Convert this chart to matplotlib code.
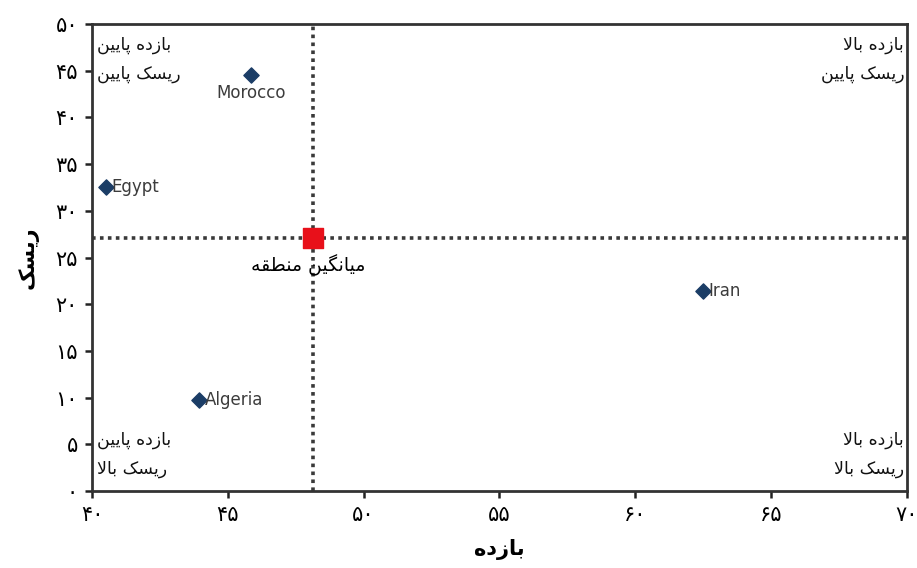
import numpy as np
import matplotlib
matplotlib.use("Agg")
import matplotlib.pyplot as plt

# data
countries = ["Morocco", "Egypt", "Iran", "Algeria"]
bazdeh = [45.85, 40.5, 62.5, 43.95]      # x : return
risk = [44.5, 32.5, 21.4, 9.7]           # y : risk
avg_x = 48.15
avg_y = 27.1
x_ticks = [40, 45, 50, 55, 60, 65, 70]
y_ticks = [0, 5, 10, 15, 20, 25, 30, 35, 40, 45, 50]

# --- tiny persian shaper (no arabic_reshaper available) ---
# letter: (isolated, final, initial, medial) ; None => does not join to next letter
FORMS = {
    "ا": ("\uFE8D", "\uFE8E", None, None),
    "ب": ("\uFE8F", "\uFE90", "\uFE91", "\uFE92"),
    "پ": ("\uFB56", "\uFB57", "\uFB58", "\uFB59"),
    "ز": ("\uFEAF", "\uFEB0", None, None),
    "د": ("\uFEA9", "\uFEAA", None, None),
    "ر": ("\uFEAD", "\uFEAE", None, None),
    "ه": ("\uFEE9", "\uFEEA", "\uFEEB", "\uFEEC"),
    "ی": ("\uFBFC", "\uFBFD", "\uFBFE", "\uFBFF"),
    "ن": ("\uFEE5", "\uFEE6", "\uFEE7", "\uFEE8"),
    "س": ("\uFEB1", "\uFEB2", "\uFEB3", "\uFEB4"),
    "ک": ("\uFB8E", "\uFB8F", "\uFB90", "\uFB91"),
    "ل": ("\uFEDD", "\uFEDE", "\uFEDF", "\uFEE0"),
    "م": ("\uFEE1", "\uFEE2", "\uFEE3", "\uFEE4"),
    "گ": ("\uFB92", "\uFB93", "\uFB94", "\uFB95"),
    "ط": ("\uFEC1", "\uFEC2", "\uFEC3", "\uFEC4"),
    "ق": ("\uFED5", "\uFED6", "\uFED7", "\uFED8"),
}


def shape_word(w):
    out = []
    letters = []
    i = 0
    while i < len(w):
        # lam + alef ligature
        if w[i] == "ل" and i + 1 < len(w) and w[i + 1] == "ا":
            letters.append("لا")
            i += 2
        else:
            letters.append(w[i])
            i += 1

    def joins_next(c):
        if c == "لا":
            return False
        return FORMS[c][2] is not None

    for k, c in enumerate(letters):
        prev_join = k > 0 and joins_next(letters[k - 1])
        next_exists = k + 1 < len(letters)
        if c == "لا":
            out.append("\uFEFC" if prev_join else "\uFEFB")
            continue
        iso, fin, ini, med = FORMS[c]
        can_next = ini is not None and next_exists
        if prev_join and can_next:
            out.append(med)
        elif prev_join:
            out.append(fin)
        elif can_next:
            out.append(ini)
        else:
            out.append(iso)
    return "".join(out)


def fa(s):
    words = [shape_word(w) for w in s.split(" ")]
    return " ".join(words)[::-1]


def fa_num(n):
    return "".join("۰۱۲۳۴۵۶۷۸۹"[int(d)] for d in str(n))


plt.rcParams['font.family'] = ['DejaVu Sans']

fig = plt.figure(figsize=(9.17, 5.68), dpi=100)
ax = fig.add_axes([0.1003, 0.1356, 0.8887, 0.8221])

ax.axvline(avg_x, color="#3a3a3a", linestyle=(0, (1, 1.2)), linewidth=2.6, zorder=1)
ax.axhline(avg_y, color="#3a3a3a", linestyle=(0, (1, 1.2)), linewidth=2.6, zorder=1)

ax.scatter(bazdeh, risk, marker="D", s=60, color="#1b3d66", zorder=3)
ax.scatter([avg_x], [avg_y], marker="s", s=190, color="#e8101a", zorder=4)

lbl_font = dict(fontsize=12, color="#3c3c3c")
for name, x, y in zip(countries, bazdeh, risk):
    if name == "Morocco":
        ax.annotate(name, (x, y), xytext=(0, -6), textcoords="offset points",
                    ha="center", va="top", **lbl_font)
    else:
        ax.annotate(name, (x, y), xytext=(4, 0), textcoords="offset points",
                    ha="left", va="center", **lbl_font)

ax.annotate(fa("میانگین منطقه"), (avg_x, avg_y), xytext=(-4, -12),
            textcoords="offset points", ha="center", va="top", fontsize=13.5)

qfont = dict(fontsize=12.5, color="#111111", linespacing=1.75)
ax.text(40.2, 48.7, fa("بازده پایین") + "\n" + fa("ریسک پایین"), ha="left", va="top", **qfont)
ax.text(69.9, 48.7, fa("بازده بالا") + "\n" + fa("ریسک پایین"), ha="right", va="top", **qfont)
ax.text(40.2, 1.4, fa("بازده پایین") + "\n" + fa("ریسک بالا"), ha="left", va="bottom", **qfont)
ax.text(69.9, 1.4, fa("بازده بالا") + "\n" + fa("ریسک بالا"), ha="right", va="bottom", **qfont)

ax.set_xlim(40, 70)
ax.set_ylim(0, 50)
ax.set_xticks(x_ticks)
ax.set_xticklabels([fa_num(v) for v in x_ticks], fontsize=15)
ax.set_yticks(y_ticks)
ax.set_yticklabels([fa_num(v) for v in y_ticks], fontsize=15)
ax.tick_params(direction="out", length=5, width=1.8, color="#222222", pad=5)

for sp in ax.spines.values():
    sp.set_linewidth(2)
    sp.set_color("#333333")

ax.set_xlabel(fa("بازده"), fontsize=15, fontweight="bold", labelpad=10)
ax.set_ylabel(fa("ریسک"), fontsize=15, fontweight="bold", labelpad=12)

fig.savefig("out.png", dpi=100, facecolor="white")
